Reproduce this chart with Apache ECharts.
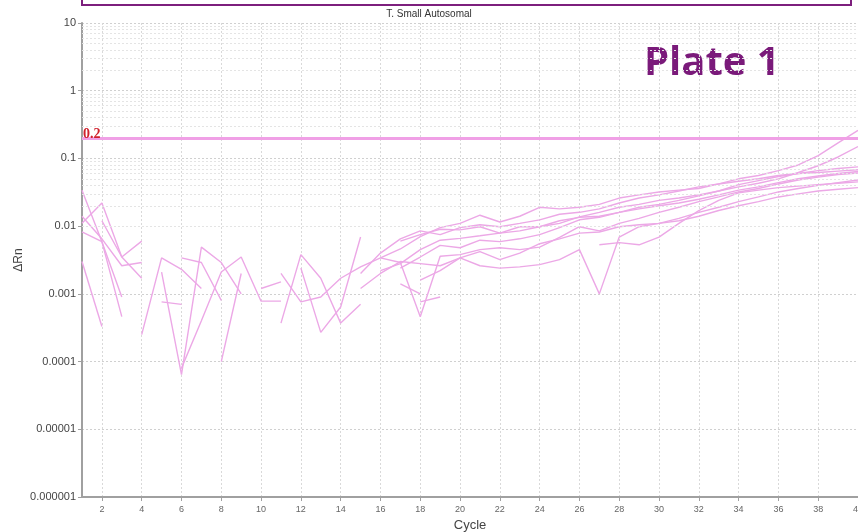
<!DOCTYPE html>
<html>
<head>
<meta charset="utf-8">
<script src="https://cdn.jsdelivr.net/npm/echarts@6/dist/echarts.min.js"></script>
<style>
  html, body { margin: 0; padding: 0; background: #fff; }
  #chart { width: 858px; height: 532px; }
</style>
</head>
<body>
<div id="chart"></div>
<script>
// Amplification cycles (x categories)
const cycles = ['1','2','3','4','5','6','7','8','9','10','11','12','13','14','15','16','17','18','19','20',
                '21','22','23','24','25','26','27','28','29','30','31','32','33','34','35','36','37','38','39','40'];

// Decade ticks of the ΔRn axis
const yTicks = [0.000001, 0.00001, 0.0001, 0.001, 0.01, 0.1, 1, 10];

// Detection threshold
const threshold = 0.2;

const _ = null;
// ΔRn per well, cycle 1..40 (null = no positive reading)
const well01 = [0.034, 0.0059, 0.00046, _, _, _, _, _, _, _, _, _, _, _, _, _, _, _, _, _, _, _, _, _, _, _, _, _, _, _, _, _, _, _, _, _, _, _, _, _];
const well02 = [0.011, 0.022, 0.0035, 0.006, _, _, _, _, _, _, _, _, _, _, _, _, _, _, _, _, _, _, _, _, _, _, _, _, _, _, _, _, _, _, _, _, _, _, _, _];
const well03 = [0.0082, 0.0059, 0.0009, _, _, _, _, _, _, _, _, _, _, _, _, _, _, _, _, _, _, _, _, _, _, _, _, _, _, _, _, _, _, _, _, _, _, _, _, _];
const well04 = [0.003, 0.00033, _, _, _, _, _, _, _, _, _, _, _, _, _, _, _, _, _, _, _, _, _, _, _, _, _, _, _, _, _, _, _, _, _, _, _, _, _, _];
const well05 = [0.014, 0.0065, 0.0026, 0.0029, _, _, _, _, _, _, _, _, _, _, _, _, _, _, _, _, _, _, _, _, _, _, _, _, _, _, _, _, _, _, _, _, _, _, _, _];
const well06 = [_, 0.012, 0.0035, 0.0017, _, _, _, _, _, _, _, _, _, _, _, _, _, _, _, _, _, _, _, _, _, _, _, _, _, _, _, _, _, _, _, _, _, _, _, _];
const well07 = [_, _, _, 0.00025, 0.0034, 0.0023, 0.0012, _, _, _, _, _, _, _, _, _, _, _, _, _, _, _, _, _, _, _, _, _, _, _, _, _, _, _, _, _, _, _, _, _];
const well08 = [_, _, _, _, 0.0021, 0.000064, 0.0049, 0.0029, 0.001, _, _, _, _, _, _, _, _, _, _, _, _, _, _, _, _, _, _, _, _, _, _, _, _, _, _, _, _, _, _, _];
const well09 = [_, _, _, _, _, 0.00008, 0.0004, 0.0021, 0.0035, 0.00078, 0.00078, _, _, _, _, _, _, _, _, _, _, _, _, _, _, _, _, _, _, _, _, _, _, _, _, _, _, _, _, _];
const well10 = [_, _, _, _, _, 0.0034, 0.0029, 0.0008, _, _, _, _, _, _, _, _, _, _, _, _, _, _, _, _, _, _, _, _, _, _, _, _, _, _, _, _, _, _, _, _];
const well11 = [_, _, _, _, 0.00076, 0.0007, _, _, _, _, _, _, _, _, _, _, _, _, _, _, _, _, _, _, _, _, _, _, _, _, _, _, _, _, _, _, _, _, _, _];
const well12 = [_, _, _, _, _, _, _, 0.0001, 0.002, _, _, _, _, _, _, _, _, _, _, _, _, _, _, _, _, _, _, _, _, _, _, _, _, _, _, _, _, _, _, _];
const well13 = [_, _, _, _, _, _, _, _, _, 0.0012, 0.0015, _, _, _, _, _, _, _, _, _, _, _, _, _, _, _, _, _, _, _, _, _, _, _, _, _, _, _, _, _];
const well14 = [_, _, _, _, _, _, _, _, _, _, 0.00037, 0.0038, 0.0017, 0.00037, 0.0007, _, _, _, _, _, _, _, _, _, _, _, _, _, _, _, _, _, _, _, _, _, _, _, _, _];
const well15 = [_, _, _, _, _, _, _, _, _, _, _, 0.0024, 0.00027, 0.00064, 0.0069, _, _, _, _, _, _, _, _, _, _, _, _, _, _, _, _, _, _, _, _, _, _, _, _, _];
const well16 = [_, _, _, _, _, _, _, _, _, _, _, _, _, _, _, _, 0.0014, 0.001, _, _, _, _, _, _, _, _, _, _, _, _, _, _, _, _, _, _, _, _, _, _];
const well17 = [_, _, _, _, _, _, _, _, _, _, _, _, _, _, _, _, _, 0.00076, 0.0009, _, _, _, _, _, _, _, _, _, _, _, _, _, _, _, _, _, _, _, _, _];
const wellA = [_, _, _, _, _, _, _, _, _, _, 0.002, 0.00076, 0.0009, 0.0017, 0.0025, 0.0034, 0.0046, 0.007, 0.0095, 0.011,
               0.0145, 0.0115, 0.014, 0.019, 0.018, 0.019, 0.021, 0.026, 0.029, 0.032, 0.034, 0.036, 0.042, 0.05, 0.056, 0.066, 0.08, 0.11, 0.17, 0.26];
const wellB = [_, _, _, _, _, _, _, _, _, _, _, _, _, _, 0.002, 0.004, 0.0065, 0.0085, 0.0075, 0.0095,
               0.0105, 0.0098, 0.011, 0.0124, 0.015, 0.016, 0.018, 0.022, 0.026, 0.029, 0.033, 0.038, 0.042, 0.046, 0.05, 0.056, 0.06, 0.062, 0.065, 0.068];
const wellC = [_, _, _, _, _, _, _, _, _, _, _, _, _, _, _, 0.0022, 0.0028, 0.0045, 0.0062, 0.0066,
               0.0072, 0.0079, 0.0085, 0.0098, 0.011, 0.0137, 0.016, 0.019, 0.021, 0.024, 0.026, 0.029, 0.033, 0.038, 0.043, 0.05, 0.062, 0.078, 0.105, 0.15];
const wellD = [_, _, _, _, _, _, _, _, _, _, _, _, _, _, _, _, 0.0024, 0.0035, 0.0052, 0.0048,
               0.0062, 0.0059, 0.0065, 0.0075, 0.0095, 0.0124, 0.0135, 0.016, 0.019, 0.021, 0.024, 0.028, 0.033, 0.041, 0.047, 0.054, 0.06, 0.066, 0.071, 0.075];
const wellE = [_, _, _, _, _, _, _, _, _, _, _, _, _, _, _, 0.0034, 0.0029, 0.00046, 0.0036, 0.0038,
               0.0045, 0.0048, 0.0045, 0.0049, 0.0068, 0.0098, 0.0085, 0.011, 0.013, 0.016, 0.019, 0.023, 0.027, 0.032, 0.036, 0.042, 0.048, 0.053, 0.058, 0.061];
const wellF = [_, _, _, _, _, _, _, _, _, _, _, _, _, _, _, _, _, 0.0016, 0.0022, 0.0034,
               0.0042, 0.0032, 0.004, 0.0055, 0.0065, 0.0079, 0.0082, 0.0098, 0.0105, 0.011, 0.013, 0.016, 0.019, 0.023, 0.027, 0.032, 0.036, 0.04, 0.044, 0.048];
const wellG = [_, _, _, _, _, _, _, _, _, _, _, _, _, _, 0.0012, 0.002, 0.003, 0.0028, 0.0026, 0.0034,
               0.0026, 0.0024, 0.0025, 0.0027, 0.0032, 0.0045, 0.001, 0.0069, 0.0098, 0.011, 0.012, 0.014, 0.017, 0.02, 0.023, 0.027, 0.03, 0.033, 0.035, 0.037];
const wellH = [_, _, _, _, _, _, _, _, _, _, _, _, _, _, _, _, _, _, _, _,
               _, _, _, _, _, _, 0.0053, 0.0057, 0.0053, 0.0069, 0.011, 0.017, 0.024, 0.031, 0.034, 0.037, 0.039, 0.041, 0.043, 0.045];
const wellI = [_, _, _, _, _, _, _, _, _, _, _, _, _, _, _, _, 0.006, 0.0075, 0.009, 0.0088,
               0.0098, 0.0079, 0.0098, 0.0098, 0.012, 0.0135, 0.014, 0.016, 0.018, 0.02, 0.022, 0.025, 0.029, 0.034, 0.038, 0.044, 0.05, 0.055, 0.06, 0.064];

const wells = [well01, well02, well03, well04, well05, well06, well07, well08, well09, well10, well11, well12,
               well13, well14, well15, well16, well17, wellA, wellB, wellC, wellD, wellE, wellF, wellG, wellH, wellI];

const traceColor = '#eca8e6';
const gridColor = '#d9d9d9';

// Minor log grid lines (2..9 within each decade)
const minorLines = [];
for (let d = 0; d < yTicks.length - 1; d++) {
  for (let k = 2; k <= 9; k++) minorLines.push({ yAxis: +(yTicks[d] * k).toPrecision(3) });
}

const evenTick = (idx) => idx % 2 === 1;

const series = wells.map((w, i) => ({
  name: 'well' + i,
  type: 'line',
  data: w,
  showSymbol: false,
  connectNulls: false,
  silent: true,
  animation: false,
  z: 4,
  lineStyle: { color: traceColor, width: 1.4 }
}));

// Background minor grid
series.unshift({
  type: 'line',
  data: [],
  silent: true,
  animation: false,
  z: 1,
  markLine: {
    silent: true,
    animation: false,
    symbol: 'none',
    label: { show: false },
    lineStyle: { color: '#e4e4e4', type: [2, 2], width: 1 },
    data: minorLines
  }
});

// Threshold line
series.push({
  type: 'line',
  data: [],
  silent: true,
  animation: false,
  z: 3,
  markLine: {
    silent: true,
    animation: false,
    symbol: 'none',
    lineStyle: { color: '#f0a0e6', type: 'solid', width: 3 },
    label: {
      show: true,
      position: 'insideStartTop',
      distance: [1, -3],
      formatter: String(threshold),
      color: '#d0202c',
      fontFamily: 'Liberation Serif',
      fontWeight: 'bold',
      fontSize: 14
    },
    data: [{ yAxis: threshold }]
  }
});

const chart = echarts.init(document.getElementById('chart'), null, { renderer: 'canvas' });
chart.setOption({
  backgroundColor: '#ffffff',
  animation: false,
  title: {
    text: 'T. Small Autosomal',
    left: 'center',
    top: 4,
    textStyle: { fontFamily: 'Liberation Sans Narrow, Liberation Sans, sans-serif', fontSize: 10, fontWeight: 'normal', color: '#333' }
  },
  grid: { left: 82, right: 0, top: 23, bottom: 35, outerBoundsMode: 'none', containLabel: false },
  xAxis: {
    type: 'category',
    data: cycles,
    boundaryGap: false,
    name: 'Cycle',
    nameLocation: 'middle',
    nameGap: 20,
    nameTextStyle: { fontFamily: 'Liberation Sans, Arial, sans-serif', fontSize: 13, color: '#444' },
    axisLine: { lineStyle: { color: '#a0a0a0', width: 2 } },
    axisTick: { interval: evenTick, length: 4, lineStyle: { color: '#a0a0a0' } },
    axisLabel: { interval: evenTick, fontSize: 9, color: '#666', margin: 8, fontFamily: 'Liberation Sans, Arial, sans-serif' },
    splitLine: { show: true, interval: evenTick, lineStyle: { color: gridColor, type: [2, 2] } }
  },
  yAxis: {
    type: 'log',
    logBase: 10,
    min: yTicks[0],
    max: yTicks[yTicks.length - 1],
    name: 'ΔRn',
    nameLocation: 'middle',
    nameGap: 57,
    nameMoveOverlap: false,
    nameTextStyle: { fontFamily: 'Liberation Sans, Arial, sans-serif', fontSize: 12, color: '#444' },
    axisLine: { show: true, lineStyle: { color: '#a0a0a0', width: 2 } },
    axisTick: { show: true, length: 4, lineStyle: { color: '#a0a0a0' } },
    axisLabel: {
      fontSize: 11,
      color: '#444',
      margin: 6,
      fontFamily: 'Liberation Sans, Arial, sans-serif',
      formatter: (v) => {
        const e = Math.round(Math.log10(v));
        return e >= 0 ? String(Math.round(Math.pow(10, e))) : Math.pow(10, e).toFixed(-e);
      }
    },
    splitLine: { show: true, lineStyle: { color: '#d0d0d0', type: [2, 2] } }
  },
  graphic: [
    {
      type: 'rect',
      shape: { x: 82, y: -10, width: 769, height: 15 },
      style: { fill: 'none', stroke: '#7d1f7d', lineWidth: 2 },
      silent: true
    },
    {
      type: 'text',
      left: 644,
      top: 44,
      style: { text: 'Plate 1', fill: '#7a1a7a', fontFamily: 'Open Sans', fontWeight: 'bold', fontSize: 40 },
      silent: true
    }
  ],
  series: series
});
</script>
</body>
</html>
